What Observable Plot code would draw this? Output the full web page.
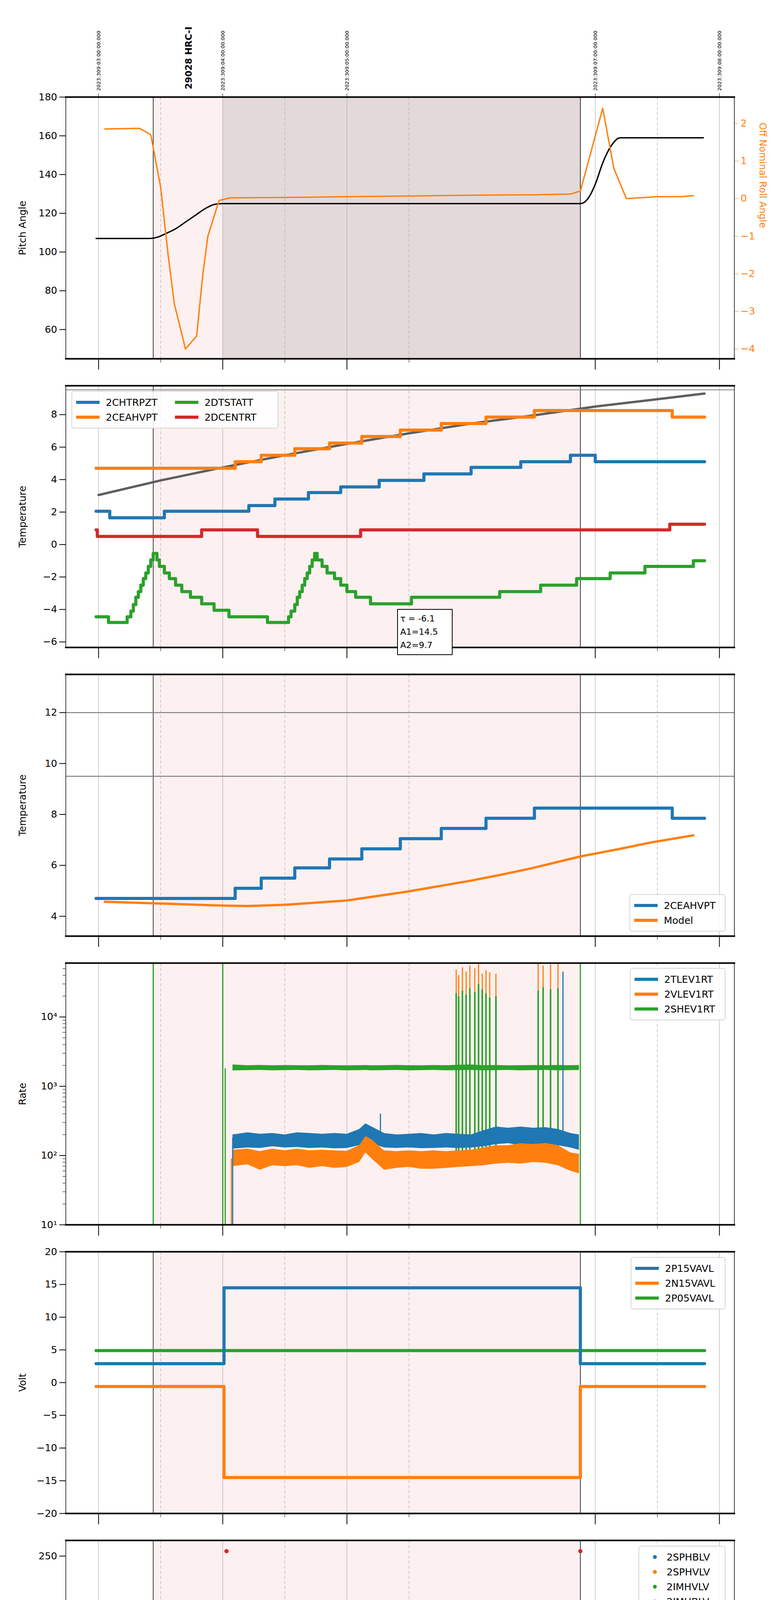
<!DOCTYPE html>
<html><head><meta charset="utf-8">
<script src="https://cdn.jsdelivr.net/npm/d3@7"></script>
<script src="https://cdn.jsdelivr.net/npm/@observablehq/plot@0.6"></script>
<style>
body{margin:0;background:white;font-family:"DejaVu Sans",sans-serif;}
#root{position:relative;width:2000px;height:6200px;}
.pl{position:absolute;left:0;}
.leg{position:absolute;background:rgba(255,255,255,0.85);border:2px solid #d6d6d6;border-radius:6px;font-size:25px;padding:8px 10px;box-sizing:border-box;}
.leg .it{display:flex;align-items:center;height:38px;white-space:nowrap;}
.leg .sw{display:inline-block;width:60px;height:8px;margin-right:16px;}
.leg .dot{display:inline-block;width:10px;height:10px;border-radius:50%;margin:0 25px 0 25px;}
.box{position:absolute;border:2px solid black;background:white;font-size:22px;padding:6px;line-height:34px;box-sizing:border-box;}
</style></head>
<body><div id="root"></div>
<script>
// ---------------- DATA ----------------
const xDomain = [2.736, 8.12];
const majorHours = [3, 4, 5, 7, 8];
const majorLabels = ["23h", "00h", "01h", "02h", "03h"];
const minorHours = [3.5, 4.5, 5.5, 7.5];
const topLabels = ["2023:309:03:00:00.000", "2023:309:04:00:00.000", "2023:309:05:00:00.000", "2023:309:07:00:00.000", "2023:309:08:00:00.000"];
const obsLabel = "29028 HRC-I";
const obsLabelTime = 3.70;
const eventLines = [3.44, 6.88];
const pinkSpan = [{start: 3.44, end: 6.88}];
const darkSpan = [{start: 4.0, end: 6.88}];

// panel 1
const pitchT = [2.98, 3.40, 3.48, 3.54, 3.62, 3.70, 3.78, 3.86, 3.94, 4.0, 6.88, 6.94, 7.0, 7.06, 7.13, 7.2, 7.87];
const pitchV = [107, 107, 107.8, 109.5, 112, 115.5, 119, 122.5, 124.7, 125, 125, 127.5, 135, 146, 155, 159, 159];
const rollT = [3.05, 3.33, 3.42, 3.50, 3.56, 3.61, 3.70, 3.79, 3.84, 3.88, 3.97, 4.06, 4.5, 5.0, 5.5, 6.0, 6.5, 6.8, 6.88, 7.06, 7.15, 7.25, 7.5, 7.69, 7.79];
const rollV = [1.85, 1.87, 1.7, 0.3, -1.5, -2.8, -4.0, -3.65, -2.0, -1.0, -0.05, 0.02, 0.03, 0.05, 0.07, 0.09, 0.1, 0.12, 0.2, 2.4, 0.8, 0.0, 0.05, 0.05, 0.08];

// panel 2
const chtrpztT = [2.98, 3.09, 3.53, 4.21, 4.42, 4.69, 4.95, 5.26, 5.62, 6.0, 6.40, 6.80, 7.0, 7.88];
const chtrpztV = [2.05, 1.65, 2.05, 2.4, 2.8, 3.2, 3.55, 3.95, 4.35, 4.75, 5.1, 5.5, 5.1, 5.1];
const ceahvptT = [2.98, 4.10, 4.31, 4.58, 4.86, 5.12, 5.43, 5.76, 6.12, 6.51, 7.62, 7.88];
const ceahvptV = [4.7, 5.1, 5.5, 5.9, 6.25, 6.65, 7.05, 7.45, 7.85, 8.25, 7.85, 7.85];
const dcentrtT = [2.98, 2.99, 3.83, 4.28, 5.11, 7.60, 7.88];
const dcentrtV = [0.9, 0.5, 0.9, 0.5, 0.9, 1.25, 1.25];
const dtstattT = [2.98, 3.08, 3.23, 3.26, 3.28, 3.30, 3.32, 3.34, 3.36, 3.38, 3.40, 3.42, 3.44, 3.47, 3.49, 3.53, 3.57, 3.62, 3.67, 3.74, 3.83, 3.93, 4.05, 4.19, 4.36, 4.53, 4.55, 4.58, 4.60, 4.62, 4.64, 4.66, 4.68, 4.70, 4.72, 4.74, 4.76, 4.80, 4.84, 4.90, 4.95, 5.0, 5.07, 5.19, 5.52, 5.71, 6.23, 6.56, 6.85, 7.12, 7.40, 7.79, 7.88];
const dtstattV = [-4.45, -4.8, -4.45, -4.1, -3.7, -3.25, -2.9, -2.5, -2.1, -1.75, -1.35, -0.95, -0.55, -0.95, -1.35, -1.75, -2.1, -2.5, -2.9, -3.25, -3.65, -4.05, -4.45, -4.45, -4.8, -4.45, -4.1, -3.7, -3.25, -2.9, -2.5, -2.1, -1.75, -1.35, -0.95, -0.55, -0.95, -1.35, -1.75, -2.1, -2.5, -2.9, -3.25, -3.65, -3.25, -3.25, -2.9, -2.5, -2.1, -1.75, -1.35, -1.0, -1.0];
const model2T = [3.0, 3.5, 4.0, 4.5, 5.0, 5.5, 6.0, 6.5, 7.0, 7.5, 7.88];
const model2V = [3.05, 3.95, 4.75, 5.5, 6.2, 6.85, 7.45, 7.95, 8.5, 8.95, 9.3];
const limit2 = [9.53];
const fitText = ["τ = -6.1", "A1=14.5", "A2=9.7"];

// panel 3
const modelT = [3.05, 3.5, 4.0, 4.2, 4.5, 5.0, 5.5, 6.0, 6.24, 6.5, 6.88, 7.2, 7.45, 7.79];
const modelV = [4.57, 4.5, 4.42, 4.40, 4.45, 4.62, 4.98, 5.4, 5.63, 5.9, 6.35, 6.65, 6.9, 7.18];
const limits3 = [12, 9.5];

// panel 4 (rates): band samples
const rateT = [4.08, 4.2, 4.3, 4.4, 4.5, 4.6, 4.7, 4.8, 4.9, 5.0, 5.1, 5.15, 5.2, 5.3, 5.4, 5.5, 5.6, 5.7, 5.8, 5.9, 6.0, 6.1, 6.2, 6.3, 6.4, 6.5, 6.6, 6.7, 6.8, 6.87];
const tlevLo = [125, 130, 128, 135, 130, 132, 128, 130, 126, 128, 140, 170, 150, 130, 128, 130, 127, 128, 130, 128, 130, 135, 145, 150, 140, 145, 150, 140, 130, 120];
const tlevHi = [200, 215, 205, 210, 200, 215, 210, 205, 210, 205, 240, 290, 260, 210, 200, 205, 210, 200, 210, 205, 200, 230, 260, 250, 260, 250, 255, 240, 210, 200];
const vlevLo = [70, 74, 62, 72, 70, 72, 66, 70, 66, 68, 80, 110, 90, 62, 66, 68, 64, 64, 66, 68, 70, 72, 76, 78, 76, 80, 78, 72, 60, 55];
const vlevHi = [120, 125, 115, 125, 118, 125, 118, 120, 118, 116, 140, 190, 170, 118, 115, 118, 115, 118, 115, 118, 120, 130, 140, 140, 150, 145, 150, 140, 110, 105];
const shevLo = [1680, 1700, 1710, 1690, 1700, 1710, 1690, 1700, 1710, 1690, 1700, 1710, 1690, 1700, 1710, 1690, 1700, 1710, 1690, 1700, 1710, 1690, 1700, 1710, 1690, 1700, 1710, 1690, 1700, 1710];
const shevHi = [2050, 2000, 2020, 1990, 2010, 2000, 1990, 2020, 2000, 1990, 2000, 2010, 1990, 2000, 2020, 2000, 1990, 2010, 2000, 2030, 2050, 2000, 2010, 1990, 2000, 2010, 2000, 2020, 2000, 2010];
const spikeT = [5.88, 5.90, 5.93, 5.96, 5.99, 6.03, 6.06, 6.09, 6.12, 6.15, 6.20, 6.54, 6.58, 6.64, 6.70];
const spikeVlev = [48000, 40000, 52000, 45000, 55000, 50000, 58000, 42000, 47000, 44000, 42000, 60000, 55000, 57000, 58000];
const spikeShev = [22000, 20000, 24000, 21000, 26000, 23000, 30000, 25000, 22000, 19000, 20000, 24000, 27000, 25000, 26000];
const shevWallT = [3.44, 4.0, 6.88];
const tlevSpikeT = [5.27, 6.74];
const tlevSpikeV = [400, 45000];

// panel 5
const p15T = [2.98, 4.01, 6.88, 7.88];
const p15V = [2.9, 14.5, 2.9, 2.9];
const n15T = [2.98, 4.01, 6.88, 7.88];
const n15V = [-0.6, -14.5, -0.6, -0.6];
const p05T = [2.98, 7.88];
const p05V = [4.9, 4.9];

// panel 6
const imhbT = [4.03, 6.88, 4.04, 4.04, 4.04, 4.05, 4.05, 4.06, 4.07, 4.08, 5.91, 5.96, 5.98, 6.00, 6.02, 6.71, 6.72];
const imhbV = [255, 255, 128, 124, 119, 106, 101, 97, 93, 89, 79, 79, 79, 79, 79, 79, 79];
const imhvT = [4.04, 4.05, 4.06, 4.07, 4.08, 5.91, 5.96, 5.98, 6.00, 6.02, 6.71, 6.72];
const imhvV = [100, 95, 90, 86, 82, 127, 127, 127, 127, 127, 127, 127];
const hvFlatT = [4.09, 6.89];
const imhbFlat = [86, 86];
const imhvFlat = [79, 79];

// panel 7
const imhvatmT = [4.0, 4.0, 4.17, 4.27, 4.38, 4.49, 4.61, 4.75, 4.90, 5.08, 5.26, 5.46, 5.68, 5.91, 6.17, 6.47, 6.77, 6.88, 6.88];
const imhvatmV = [0, 13.6, 13.9, 14.2, 14.5, 14.75, 15.0, 15.3, 15.6, 15.85, 16.1, 16.4, 16.65, 17.0, 17.25, 17.55, 17.8, 18.44, 0];
const sphvatmT = [4.01, 4.52, 4.92, 5.22, 5.51, 5.79, 6.15, 6.41, 6.75, 6.88];
const sphvatmV = [14.15, 14.45, 14.75, 15.0, 15.3, 15.55, 15.85, 16.1, 16.4, 16.4];
const spinatmT = [4.03, 4.28, 4.54, 4.56, 4.58, 4.60, 4.61, 4.63, 4.65, 4.67, 4.69, 4.71, 4.74, 4.76, 4.78, 4.80, 4.82, 4.85, 4.88, 4.92, 4.97, 5.07, 5.23, 5.56, 6.88];
const spinatmV = [3.7, 3.25, 3.7, 4.2, 4.7, 5.2, 5.7, 6.2, 6.7, 7.2, 7.6, 8.0, 8.4, 8.0, 7.5, 7.0, 6.5, 6.0, 5.5, 5.0, 4.55, 4.15, 3.7, 3.7, 3.7];
const iminatmT = [4.03, 4.56, 5.90, 6.88];
const iminatmV = [1.0, 1.45, 1.85, 1.85];
const detBlocks = [
  {s: 5.88, e: 6.16, lo: 0, hi: 1.6, c: "#1f77b4"},
  {s: 5.88, e: 6.16, lo: 1.6, hi: 3.8, c: "#2ca02c"},
  {s: 5.88, e: 6.16, lo: 10.6, hi: 15.5, c: "#ff7f0e"},
  {s: 6.70, e: 6.73, lo: 11.3, hi: 16.1, c: "#ff7f0e"},
  {s: 5.90, e: 6.16, lo: 15.5, hi: 17.0, c: "#d62728"}
];
const detSpikeT = [6.54, 6.58];
const detSpikeOrangeLo = [11.0, 11.0];

// panel 8
const fhtrmztT = [2.98, 4.08, 4.09, 4.13, 4.29, 4.42, 4.54, 4.66, 4.78, 4.90, 5.01, 5.13, 5.25, 5.38, 5.50, 5.63, 5.77, 5.91, 6.06, 6.18, 6.32, 6.47, 6.63, 6.77, 6.93, 7.35, 7.88];
const fhtrmztV = [-10.05, -10.9, -10.05, -9.65, -9.25, -8.85, -8.45, -8.05, -7.6, -7.2, -6.8, -6.35, -6.0, -5.6, -5.2, -4.8, -4.45, -4.05, -3.7, -3.3, -2.9, -2.5, -2.15, -1.75, -1.35, -1.75, -1.75];
const fradpytT = [4.31, 4.43, 4.55, 4.67, 4.79, 4.91, 5.04, 5.16, 5.29, 5.42, 5.55, 5.70, 5.85, 6.0, 6.14, 6.30, 6.45, 6.61, 6.77, 7.53, 7.88];
const fradpytV = [-10.85, -10.45, -10.0, -9.6, -9.2, -8.8, -8.4, -8.0, -7.6, -7.2, -6.8, -6.4, -6.0, -5.6, -5.2, -4.8, -4.4, -4.05, -3.65, -4.05, -4.05];
const fepratmT = [4.05, 4.08, 4.17, 4.21, 4.25, 4.31, 4.38, 4.46, 4.55, 4.62, 4.73, 4.85, 4.97, 5.08, 5.20, 5.33, 5.46, 5.58, 5.71, 5.84, 6.15, 6.30, 6.45, 6.55, 6.77];
const fepratmV = [-8.5, -8.2, -7.8, -7.4, -7.0, -6.6, -6.2, -5.8, -5.4, -5.0, -4.6, -4.2, -3.8, -3.4, -3.0, -2.6, -2.2, -1.8, -1.4, -1.0, -0.6, -0.2, 0.2, 0.6, 0.6];
const fe00atmT = [4.01, 4.01, 4.16, 4.22, 4.31, 4.40, 4.49, 4.56, 4.65, 4.75, 4.87, 4.99, 5.11, 5.23, 5.36, 5.48, 5.61, 5.74, 5.86, 6.18, 6.33, 6.48, 6.59, 6.77];
const fe00atmV = [-11.1, -7.85, -7.5, -7.1, -6.7, -6.3, -5.9, -5.5, -5.1, -4.6, -4.2, -3.8, -3.4, -3.0, -2.6, -2.2, -1.85, -1.45, -1.2, -0.45, -0.05, 0.35, 0.75, 0.75];
const feaGreenSpikeT = [5.88, 5.90, 5.92, 5.94, 5.96, 5.98, 6.00, 6.02, 6.05, 6.08, 6.10, 6.12, 6.14, 6.54, 6.70, 6.71, 6.72];
const feaRedSpikeT = [5.87, 5.89, 5.91, 5.93, 5.95, 5.97, 5.99, 6.01, 6.03, 6.07, 6.09, 6.11, 6.13, 6.15];
const feaRedWallT = [6.05, 6.88];

// ---------------- HELPERS ----------------
const C = {blue: "#1f77b4", orange: "#ff7f0e", green: "#2ca02c", red: "#d62728"};
const W = 2000, ML = 168, MR = 120, PH = 670;
const panelTops = [248, 987, 1726, 2465, 3204, 3943, 4682, 5420];
const root = document.getElementById("root");
const zip = (t, v) => t.map((x, i) => ({x, y: v[i]}));
const step = (t, v, color, w = 8) => Plot.line(zip(t, v), {x: "x", y: "y", curve: "step-after", stroke: color, strokeWidth: w});
const none = () => "";
const num = d => String(d).replace("-", "−");

function background(dark) {
  const m = [
    Plot.rect(pinkSpan, {x1: "start", x2: "end", fill: "#fdf0f0"})
  ];
  if (dark) m.push(Plot.rect(darkSpan, {x1: "start", x2: "end", fill: "#e4d9d9"}));
  m.push(Plot.ruleX(majorHours, {stroke: "#b0b0b0", strokeWidth: 1.2}));
  m.push(Plot.ruleX(minorHours, {stroke: "#b0b0b0", strokeWidth: 1.2, strokeDasharray: "8,5"}));
  m.push(Plot.ruleX(eventLines, {stroke: "black", strokeWidth: 1.5}));
  return m;
}
function xAxes(last) {
  const m = [Plot.axisX({ticks: majorHours, tickSize: 28, tickFormat: last ? (d => majorLabels[majorHours.indexOf(d)]) : none, fontSize: 30, tickPadding: 8, strokeWidth: 2, label: null})];
  m.push(Plot.axisX({ticks: minorHours, tickSize: 10, tickFormat: last ? (() => "30") : none, fontSize: 17, tickPadding: 4, label: null}));
  return m;
}
function yAxis(ticks, label, fmt = num) {
  return Plot.axisY({ticks, tickSize: 16, tickPadding: 6, fontSize: 25, label, labelAnchor: "center", labelArrow: "none", labelOffset: 120, tickFormat: fmt, strokeWidth: 2});
}
function place(node, top) {
  const d = document.createElement("div");
  d.className = "pl"; d.style.top = top + "px";
  d.appendChild(node); root.appendChild(d);
}
function panel(i, y, marks, opts = {}) {
  const mt = opts.mt ?? 20, mb = opts.mb ?? 69;
  const p = Plot.plot({
    width: W, height: mt + PH + mb, marginLeft: ML, marginRight: MR, marginTop: mt, marginBottom: mb,
    x: {domain: xDomain}, y,
    style: {background: "transparent", fontFamily: "DejaVu Sans", overflow: "visible", color: "black"},
    marks: [...background(opts.dark), ...marks,
      Plot.frame({stroke: "black", strokeWidth: 1.5}),
      Plot.frame({anchor: "top", stroke: "black", strokeWidth: 4}),
      Plot.frame({anchor: "bottom", stroke: "black", strokeWidth: 4}),
      ...xAxes(opts.last)]
  });
  place(p, panelTops[i] - mt);
}
function legend(items, {left, top, width, cols = 1, dot = false, height}) {
  const d = document.createElement("div");
  d.className = "leg";
  d.style.left = left + "px"; d.style.top = top + "px"; d.style.width = width + "px";
  if (height) d.style.height = height + "px";
  d.style.display = "grid"; d.style.gridTemplateColumns = `repeat(${cols}, auto)`; d.style.gridAutoFlow = cols > 1 ? "column" : "row";
  if (cols > 1) d.style.gridTemplateRows = `repeat(${Math.ceil(items.length / cols)}, auto)`;
  for (const [name, color] of items) {
    const it = document.createElement("div"); it.className = "it";
    const sw = document.createElement("span"); sw.className = dot ? "dot" : "sw"; sw.style.background = color;
    it.appendChild(sw); it.appendChild(document.createTextNode(name)); d.appendChild(it);
  }
  root.appendChild(d);
}

// ---------------- PANEL 1 ----------------
panel(0, {domain: [44.9, 180]}, [
  Plot.line(zip(pitchT, pitchV), {x: "x", y: "y", stroke: "black", strokeWidth: 3.5, curve: "monotone-x"}),
  yAxis([60, 80, 100, 120, 140, 160, 180], "Pitch Angle"),
  Plot.axisX({anchor: "top", ticks: majorHours, tickSize: 10, tickFormat: d => topLabels[majorHours.indexOf(d)], fontSize: 13, tickRotate: -90, tickPadding: 6, textAnchor: "start", label: null}),
  Plot.text([obsLabel], {x: obsLabelTime, text: d => d, frameAnchor: "top", dy: -20, rotate: -90, textAnchor: "start", fontSize: 23, fontWeight: "bold"})
], {mt: 248, dark: true});
const roll = Plot.plot({
  width: W, height: 248 + PH + 69, marginLeft: ML, marginRight: MR, marginTop: 248, marginBottom: 69,
  x: {domain: xDomain, axis: null}, y: {domain: [-4.26, 2.70]},
  style: {background: "transparent", fontFamily: "DejaVu Sans", overflow: "visible"},
  marks: [
    Plot.line(zip(rollT, rollV), {x: "x", y: "y", stroke: C.orange, strokeWidth: 3.5}),
    Plot.axisY({anchor: "right", ticks: [-4, -3, -2, -1, 0, 1, 2], tickFormat: num, color: C.orange, stroke: C.orange, fill: C.orange, tickSize: 10, fontSize: 25, tickPadding: 6, label: null}),
    Plot.text(["Off Nominal Roll Angle"], {frameAnchor: "right", dx: 72, rotate: 90, text: d => d, fill: C.orange, fontSize: 24})
  ]
});
place(roll, 0);

// ---------------- PANEL 2 ----------------
panel(1, {domain: [-6.34, 9.78]}, [
  Plot.ruleY(limit2, {stroke: "#808080", strokeWidth: 2}),
  Plot.line(zip(model2T, model2V), {x: "x", y: "y", stroke: "#555", strokeOpacity: 0.95, strokeWidth: 6}),
  step(chtrpztT, chtrpztV, C.blue), step(ceahvptT, ceahvptV, C.orange),
  step(dtstattT, dtstattV, C.green), step(dcentrtT, dcentrtV, C.red),
  yAxis([-6, -4, -2, 0, 2, 4, 6, 8], "Temperature")
]);
legend([["2CHTRPZT", C.blue], ["2CEAHVPT", C.orange], ["2DTSTATT", C.green], ["2DCENTRT", C.red]], {left: 183, top: 1001, width: 530, cols: 2});
{
  const b = document.createElement("div"); b.className = "box";
  b.style.left = "1017px"; b.style.top = "1559px"; b.style.width = "142px";
  b.innerHTML = fitText.join("<br>"); root.appendChild(b);
}

// ---------------- PANEL 3 ----------------
panel(2, {domain: [3.22, 13.5]}, [
  Plot.ruleY(limits3, {stroke: "#808080", strokeWidth: 2.5}),
  step(ceahvptT, ceahvptV, C.blue),
  Plot.line(zip(modelT, modelV), {x: "x", y: "y", stroke: C.orange, strokeWidth: 6}),
  yAxis([4, 6, 8, 10, 12], "Temperature")
]);
legend([["2CEAHVPT", C.blue], ["Model", C.orange]], {left: 1612, top: 2289, width: 246});

// ---------------- PANEL 4 ----------------
const sup = {1: "¹", 2: "²", 3: "³", 4: "⁴"};
const minorLog = [];
for (const k of [10, 100, 1000, 10000]) for (let m = 2; m <= 9; m++) if (k * m < 60000) minorLog.push(k * m);
const band = (lo, hi) => rateT.map((x, i) => ({x, lo: lo[i], hi: hi[i]}));
const tl = band(tlevLo, tlevHi), vl = band(vlevLo, vlevHi), sh = band(shevLo, shevHi);
panel(3, {type: "log", domain: [10, 60000], clamp: true}, [
  Plot.ruleX(shevWallT, {y1: 10, y2: 60000, stroke: C.green, strokeWidth: 3}),
  Plot.areaY(sh, {x: "x", y1: "lo", y2: "hi", fill: C.green}),
  Plot.ruleX(spikeT, {y1: 100, y2: (d, i) => spikeShev[i], stroke: C.green, strokeWidth: 4}),
  Plot.ruleX(spikeT, {y1: (d, i) => spikeShev[i], y2: (d, i) => spikeVlev[i], stroke: C.orange, strokeWidth: 3}),
  Plot.areaY(tl, {x: "x", y1: "lo", y2: "hi", fill: C.blue}),
  Plot.ruleX(tlevSpikeT, {y1: 150, y2: (d, i) => tlevSpikeV[i], stroke: C.blue, strokeWidth: 3}),
  Plot.areaY(vl, {x: "x", y1: "lo", y2: "hi", fill: C.orange}),
  Plot.ruleX([4.07], {y1: 10, y2: 90, stroke: C.orange, strokeWidth: 3}),
  Plot.ruleX([4.08], {y1: 10, y2: 180, stroke: C.blue, strokeWidth: 3}),
  Plot.ruleX([4.02], {y1: 10, y2: 1800, stroke: C.green, strokeWidth: 3}),
  Plot.axisY({ticks: minorLog, tickSize: 8, tickFormat: none, label: null}),
  yAxis([10, 100, 1000, 10000], "Rate", d => "10" + sup[Math.round(Math.log10(d))])
]);
legend([["2TLEV1RT", C.blue], ["2VLEV1RT", C.orange], ["2SHEV1RT", C.green]], {left: 1613, top: 2478, width: 245});

// ---------------- PANEL 5 ----------------
panel(4, {domain: [-20, 20]}, [
  step(p05T, p05V, C.green), step(p15T, p15V, C.blue), step(n15T, n15V, C.orange),
  yAxis([-20, -15, -10, -5, 0, 5, 10, 15, 20], "Volt")
]);
legend([["2P15VAVL", C.blue], ["2N15VAVL", C.orange], ["2P05VAVL", C.green]], {left: 1615, top: 3218, width: 243});

// ---------------- PANEL 6 ----------------
panel(5, {domain: [0, 265.9]}, [
  Plot.line(zip(hvFlatT, imhvFlat), {x: "x", y: "y", stroke: C.green, strokeWidth: 12}),
  Plot.dot(zip(imhvT, imhvV), {x: "x", y: "y", fill: C.green, r: 5.5}),
  Plot.line(zip(hvFlatT, imhbFlat), {x: "x", y: "y", stroke: C.red, strokeWidth: 12}),
  Plot.dot(zip(imhbT, imhbV), {x: "x", y: "y", fill: C.red, r: 5.5}),
  yAxis([0, 50, 100, 150, 200, 250], "HV Monitor")
]);
legend([["2SPHBLV", C.blue], ["2SPHVLV", C.orange], ["2IMHVLV", C.green], ["2IMHBLV", C.red]], {left: 1635, top: 3957, width: 223, dot: true});

// ---------------- PANEL 7 ----------------
panel(6, {domain: [0, 18.44]}, [
  step(spinatmT, spinatmV, C.blue), step(iminatmT, iminatmV, C.green),
  step(sphvatmT, sphvatmV, C.orange),
  Plot.rect(detBlocks, {x1: "s", x2: "e", y1: "lo", y2: "hi", fill: "c"}),
  Plot.ruleX(detSpikeT, {y1: 0, y2: 3.7, stroke: C.blue, strokeWidth: 4}),
  Plot.ruleX(detSpikeT, {y1: 1.85, y2: 3.8, stroke: C.green, strokeWidth: 4}),
  Plot.ruleX(detSpikeT, {y1: (d, i) => detSpikeOrangeLo[i], y2: 16.1, stroke: C.orange, strokeWidth: 4}),
  Plot.line(zip(imhvatmT, imhvatmV), {x: "x", y: "y", curve: "step-after", stroke: C.red, strokeWidth: 8}),
  yAxis([0, 2.5, 5, 7.5, 10, 12.5, 15, 17.5], "Detector Temp", d3.format(".1f"))
]);
legend([["2SPINATM", C.blue], ["2SPHVATM", C.orange], ["2IMINATM", C.green], ["2IMHVATM", C.red]], {left: 1610, top: 4695, width: 248});

// ---------------- PANEL 8 ----------------
panel(7, {domain: [-11.1, 1.05], clamp: true}, [
  step(fhtrmztT, fhtrmztV, C.blue), step(fradpytT, fradpytV, C.orange),
  step(fepratmT, fepratmV, C.green),
  Plot.ruleX(feaGreenSpikeT, {y1: -4.7, y2: -1.0, stroke: C.green, strokeWidth: 5}),
  step(fe00atmT, fe00atmV, C.red),
  Plot.ruleX(feaRedSpikeT, {y1: -1.5, y2: 1.05, stroke: C.red, strokeWidth: 4}),
  Plot.ruleX(feaRedWallT, {y1: -11.1, y2: 1.05, stroke: C.red, strokeWidth: 5}),
  yAxis([-10, -8, -6, -4, -2, 0], "FEA Temp"),
  Plot.text(["2023-11-05 (309)"], {frameAnchor: "bottom", dy: 88, text: d => d, fontSize: 30})
], {last: true, mb: 110});
legend([["2FHTRMZT", C.blue], ["2FRADPYT", C.orange], ["2FEPRATM", C.green], ["2FE00ATM", C.red]], {left: 1607, top: 5901, width: 251});
</script></body></html>
